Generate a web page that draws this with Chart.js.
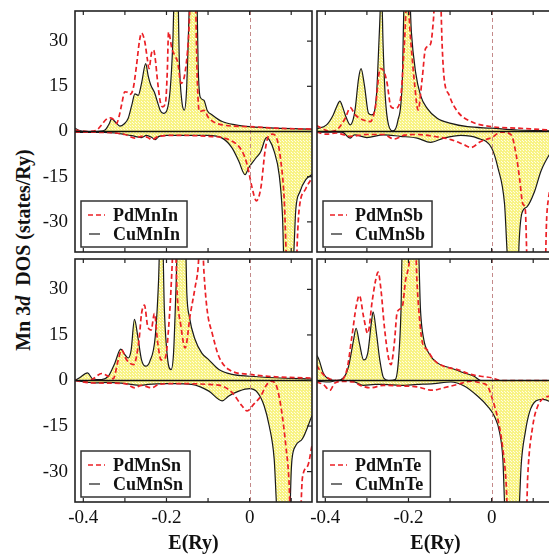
<!DOCTYPE html>
<html>
<head>
<meta charset="utf-8">
<script src="https://cdn.jsdelivr.net/npm/chart.js@4.4.1/dist/chart.umd.min.js"></script>
<style>
html, body { margin: 0; padding: 0; background: #fff; }
body { width: 549px; height: 558px; overflow: hidden; position: relative; }
canvas { position: absolute; }
#ytitle {
  position: absolute; left: 23px; top: 250px;
  transform: translate(-50%, -50%) rotate(-90deg);
  font: bold 20px 'Liberation Serif', serif; white-space: nowrap; color: #111;
}
</style>
</head>
<body>
<div id="ytitle">Mn 3<i>d</i>&nbsp; DOS (states/Ry)</div>
<canvas id="p0" width="284" height="245" style="left:30px;top:9px"></canvas>
<canvas id="p1" width="256" height="245" style="left:300px;top:9px"></canvas>
<canvas id="p2" width="284" height="301" style="left:30px;top:257px"></canvas>
<canvas id="p3" width="256" height="301" style="left:300px;top:257px"></canvas>
<script>
// compounds, one per panel (TL, TR, BL, BR)
const pdNames = ['PdMnIn', 'PdMnSb', 'PdMnSn', 'PdMnTe'];
const cuNames = ['CuMnIn', 'CuMnSb', 'CuMnSn', 'CuMnTe'];

// axis ticks
const xLabelTicks = [-0.4, -0.2, 0];
const xMinorTicks = [-0.4, -0.3, -0.2, -0.1, 0, 0.1];
const yTicks = [-30, -15, 0, 15, 30];

// [E (Ry), DOS (states/Ry)] ; spin up positive, spin down negative
const cuMnInUp = [[-0.42,1.2],[-0.41,0.3],[-0.39,0],[-0.37,0],[-0.348,0.5],[-0.338,2.5],[-0.332,4.2],[-0.322,3],[-0.312,1.8],[-0.302,2.5],[-0.292,4.4],[-0.283,9],[-0.276,12.5],[-0.268,12],[-0.26,16],[-0.25,22.5],[-0.244,18.5],[-0.238,15.5],[-0.229,13],[-0.221,9.5],[-0.215,7],[-0.207,6],[-0.199,7],[-0.191,14],[-0.185,28.6],[-0.179,55],[-0.173,50],[-0.169,23],[-0.163,10],[-0.157,7.1],[-0.152,13],[-0.147,33],[-0.142,55],[-0.131,60],[-0.126,40],[-0.124,23],[-0.119,11.5],[-0.11,10.4],[-0.102,7],[-0.09,5.5],[-0.066,3.3],[-0.034,2.2],[0,1.6],[0.063,1.1],[0.15,0.8]];
const pdMnInUp = [[-0.42,0.5],[-0.39,0],[-0.37,0.3],[-0.356,2.2],[-0.345,4],[-0.335,4.5],[-0.326,3.8],[-0.32,2.7],[-0.314,5],[-0.308,8.8],[-0.3,13.2],[-0.294,13],[-0.288,12.3],[-0.28,14.3],[-0.272,22],[-0.265,30],[-0.26,32.7],[-0.252,29.7],[-0.246,24],[-0.242,20.9],[-0.236,26],[-0.231,27],[-0.226,23],[-0.223,18.7],[-0.215,9.9],[-0.209,8.2],[-0.202,9.9],[-0.198,20],[-0.195,33],[-0.187,27.5],[-0.179,25],[-0.173,23],[-0.165,16],[-0.156,19],[-0.147,31],[-0.142,45],[-0.131,50],[-0.128,30],[-0.126,17.6],[-0.121,6.6],[-0.11,7],[-0.098,4.4],[-0.066,2.2],[0,1.6],[0.063,1.1],[0.15,0.8]];
const cuMnInDn = [[-0.42,-0.3],[-0.35,-0.3],[-0.324,-0.5],[-0.3,-1],[-0.276,-1.6],[-0.26,-2],[-0.248,-1.3],[-0.235,-2],[-0.227,-2.7],[-0.218,-1.6],[-0.2,-1.3],[-0.1,-1.3],[-0.066,-2.2],[-0.042,-5.5],[-0.026,-9.9],[-0.011,-14.3],[-0.002,-12],[0.015,-8.8],[0.027,-6.6],[0.036,-3],[0.04,-2],[0.047,-2.7],[0.059,-6.6],[0.071,-14.3],[0.079,-28],[0.083,-45],[0.103,-50],[0.107,-38],[0.111,-26],[0.121,-20],[0.135,-16],[0.15,-14.3]];
const pdMnInDn = [[-0.42,-0.2],[-0.35,-0.3],[-0.3,-1],[-0.276,-2.2],[-0.26,-1.6],[-0.245,-2],[-0.235,-2.7],[-0.219,-1.6],[-0.18,-1.3],[-0.1,-1.6],[-0.05,-2.7],[-0.018,-6.6],[-0.006,-11],[0.006,-18.7],[0.016,-23],[0.027,-18.7],[0.037,-6.6],[0.045,-1.6],[0.055,-0.9],[0.065,-2.2],[0.073,-7.7],[0.083,-22],[0.09,-45],[0.111,-50],[0.115,-35],[0.119,-26],[0.135,-19],[0.15,-15.4]];

const cuMnSbUp = [[-0.421,0.9],[-0.397,2.2],[-0.381,5.5],[-0.372,8.5],[-0.365,10.1],[-0.358,8],[-0.352,5.5],[-0.34,2.2],[-0.333,4],[-0.328,7.7],[-0.32,17.6],[-0.314,20.9],[-0.306,15.4],[-0.296,6],[-0.288,5.5],[-0.277,12],[-0.27,33],[-0.265,48],[-0.261,28.6],[-0.256,12],[-0.248,2.2],[-0.237,0.2],[-0.226,3.3],[-0.215,16.5],[-0.21,45],[-0.199,50],[-0.193,33],[-0.183,19.8],[-0.171,12],[-0.155,7.7],[-0.131,4.4],[-0.098,2.7],[-0.058,1.6],[0,1.1],[0.063,0.5],[0.15,0.2]];
const pdMnSbUp = [[-0.421,2],[-0.4,0.5],[-0.39,0],[-0.373,0.5],[-0.352,4.4],[-0.34,7.9],[-0.328,5.5],[-0.308,3.8],[-0.292,3.3],[-0.28,7.7],[-0.268,20.9],[-0.26,20.3],[-0.252,16.5],[-0.242,8.2],[-0.231,7.7],[-0.219,11],[-0.21,28.6],[-0.203,45],[-0.195,30.8],[-0.185,15.4],[-0.177,7.1],[-0.167,17.6],[-0.159,27.5],[-0.147,29],[-0.14,37],[-0.135,48],[-0.124,48],[-0.119,28.6],[-0.115,18.7],[-0.102,12],[-0.082,6.6],[-0.05,3.3],[0,1.6],[0.063,1.1],[0.15,0.4]];
const cuMnSbDn = [[-0.421,-0.2],[-0.36,-0.2],[-0.34,-2.2],[-0.33,-1.1],[-0.3,-2],[-0.26,-1.1],[-0.22,-1.6],[-0.179,-2.2],[-0.147,-3.6],[-0.115,-2.2],[-0.074,-1.3],[-0.034,-2.2],[0,-5.5],[0.015,-12],[0.031,-24],[0.04,-45],[0.063,-50],[0.066,-37],[0.073,-27],[0.085,-25],[0.103,-20],[0.119,-13],[0.15,-5]];
const pdMnSbDn = [[-0.421,-0.2],[-0.397,-0.9],[-0.373,-0.5],[-0.34,-1.6],[-0.3,-1],[-0.26,-1],[-0.235,-2.5],[-0.21,-1.2],[-0.179,-1],[-0.139,-1.6],[-0.098,-2.7],[-0.066,-4.4],[-0.05,-5.3],[-0.026,-3.3],[0,-2],[0.023,-0.2],[0.047,-1.1],[0.059,-7.7],[0.067,-15.4],[0.075,-24],[0.081,-26],[0.086,-45],[0.128,-50],[0.132,-30],[0.137,-22],[0.15,-15]];

const cuMnSnUp = [[-0.42,0],[-0.409,0.9],[-0.39,2.5],[-0.377,0.5],[-0.356,0.3],[-0.34,1.4],[-0.324,5.8],[-0.31,10.3],[-0.3,8.5],[-0.292,7.4],[-0.285,10],[-0.277,20.1],[-0.269,14.5],[-0.26,6.8],[-0.25,4.7],[-0.24,6.3],[-0.227,14.5],[-0.219,33],[-0.215,50],[-0.21,50],[-0.205,23],[-0.197,6.8],[-0.189,3.6],[-0.183,9],[-0.177,30.8],[-0.172,50],[-0.155,50],[-0.151,28.6],[-0.145,21],[-0.131,13.4],[-0.115,9],[-0.098,6.8],[-0.074,3.6],[-0.042,2],[0,1.4],[0.063,0.9],[0.15,0.5]];
const pdMnSnUp = [[-0.42,0],[-0.396,-0.2],[-0.377,0.5],[-0.356,2.3],[-0.34,1.4],[-0.328,0.6],[-0.316,6.8],[-0.308,10.1],[-0.296,6.8],[-0.279,5.2],[-0.266,13.4],[-0.26,22],[-0.253,24.8],[-0.245,17.7],[-0.237,16.6],[-0.229,22],[-0.221,12.3],[-0.213,6.8],[-0.203,7.4],[-0.192,23],[-0.187,36],[-0.182,50],[-0.178,45],[-0.175,30.8],[-0.165,17.7],[-0.155,10.7],[-0.143,21.5],[-0.131,30.8],[-0.124,37],[-0.119,48],[-0.113,45],[-0.11,36],[-0.102,23],[-0.09,15.5],[-0.074,7.9],[-0.05,3.6],[0,2],[0.063,1.2],[0.15,0.8]];
const cuMnSnDn = [[-0.42,0],[-0.373,-0.8],[-0.34,-0.6],[-0.3,-1],[-0.26,-1.6],[-0.245,-1.3],[-0.2,-1],[-0.179,-1],[-0.139,-1.3],[-0.098,-3.5],[-0.066,-6.7],[-0.05,-5.1],[-0.026,-3.5],[0,-2.7],[0.019,-4],[0.035,-8.4],[0.047,-14.9],[0.059,-25.8],[0.067,-45],[0.095,-50],[0.1,-30],[0.102,-25.8],[0.111,-21.4],[0.127,-19.2],[0.15,-11.6]];
const pdMnSnDn = [[-0.42,0],[-0.38,-0.8],[-0.3,-1],[-0.276,-2.4],[-0.26,-1.6],[-0.235,-2.4],[-0.219,-1.3],[-0.179,-1],[-0.098,-1.3],[-0.066,-1.8],[-0.042,-4],[-0.018,-8.4],[-0.006,-10],[0.01,-7.8],[0.027,-5.1],[0.039,-1.8],[0.051,-0.2],[0.063,-1.3],[0.075,-8.4],[0.087,-21.4],[0.095,-34],[0.099,-50],[0.12,-50],[0.127,-32],[0.14,-28],[0.15,-21.4]];

const cuMnTeUp = [[-0.421,8.5],[-0.415,6.8],[-0.405,2.5],[-0.389,0.3],[-0.373,0],[-0.356,0.9],[-0.344,4.7],[-0.332,13.4],[-0.326,17.2],[-0.318,12.3],[-0.308,6.8],[-0.298,9],[-0.289,19.3],[-0.285,22.6],[-0.277,15.5],[-0.269,6.8],[-0.26,0.9],[-0.248,0],[-0.232,0.3],[-0.224,6.8],[-0.218,23],[-0.214,50],[-0.178,50],[-0.171,23],[-0.163,13.4],[-0.151,9],[-0.131,5.8],[-0.098,4.1],[-0.066,2.5],[-0.042,1.4],[-0.026,0],[0.15,0]];
const pdMnTeUp = [[-0.421,4.9],[-0.405,2],[-0.389,0.5],[-0.365,0],[-0.348,3.6],[-0.336,14.5],[-0.326,24.2],[-0.318,28],[-0.308,21],[-0.298,15.5],[-0.287,26.4],[-0.279,33],[-0.273,35.7],[-0.266,29.7],[-0.258,17.7],[-0.248,7.4],[-0.242,5.2],[-0.234,12.3],[-0.227,22.6],[-0.215,24.2],[-0.207,33],[-0.199,38],[-0.19,50],[-0.184,50],[-0.18,34],[-0.175,23],[-0.167,12.8],[-0.155,10.1],[-0.139,6.8],[-0.115,4.7],[-0.082,3.6],[-0.05,2],[-0.026,1.4],[0,0.9],[0.023,0],[0.15,0]];
const cuMnTeDn = [[-0.421,-0.2],[-0.389,-0.5],[-0.373,0],[-0.34,0],[-0.324,-0.8],[-0.308,-1.6],[-0.28,-1.3],[-0.26,-1.3],[-0.22,-1.6],[-0.179,-1.3],[-0.139,-1],[-0.098,-0.5],[-0.066,-1.8],[-0.034,-5.1],[-0.01,-8.4],[0.006,-11.6],[0.019,-17],[0.027,-25.8],[0.033,-45],[0.063,-50],[0.067,-40],[0.071,-28],[0.081,-17],[0.091,-10.5],[0.107,-6.7],[0.123,-6.2],[0.15,-7.5]];
const pdMnTeDn = [[-0.421,-0.5],[-0.405,-1.3],[-0.389,-3.2],[-0.377,-0.8],[-0.356,-0.3],[-0.332,-0.5],[-0.316,-1.6],[-0.292,-2.4],[-0.26,-1.6],[-0.219,-1.8],[-0.179,-2.1],[-0.143,-3.2],[-0.115,-2.4],[-0.082,-1.3],[-0.05,-0.2],[-0.026,-0.8],[-0.01,-1.8],[0.002,-6.2],[0.015,-12.7],[0.027,-22.5],[0.035,-34],[0.04,-50],[0.082,-50],[0.087,-31],[0.099,-14.9],[0.111,-8.4],[0.127,-5.7],[0.15,-5]];

const cuUp = [cuMnInUp, cuMnSbUp, cuMnSnUp, cuMnTeUp];
const cuDn = [cuMnInDn, cuMnSbDn, cuMnSnDn, cuMnTeDn];
const pdUp = [pdMnInUp, pdMnSbUp, pdMnSnUp, pdMnTeUp];
const pdDn = [pdMnInDn, pdMnSbDn, pdMnSnDn, pdMnTeDn];

const FONT = "'Liberation Serif', 'Times New Roman', serif";
const RED = 'rgb(235,32,38)';
const INK = '#1a1a1a';

function toXY(arr) { return arr.map(p => ({ x: p[0], y: p[1] })); }

// dotted yellow fill like the original
function dotPattern() {
  const c = document.createElement('canvas');
  c.width = 3; c.height = 3;
  const g = c.getContext('2d');
  g.fillStyle = '#f8f384'; g.fillRect(0, 0, 3, 3);
  g.fillStyle = '#fffce4'; g.fillRect(1, 0, 1, 1); g.fillRect(0, 2, 1, 1);
  return g.createPattern(c, 'repeat');
}

function seg(ctx, x1, y1, x2, y2) {
  ctx.beginPath(); ctx.moveTo(x1, y1); ctx.lineTo(x2, y2); ctx.stroke();
}

// frame, inner ticks, E_F line, zero line and boxed legend
const panelDecor = {
  id: 'panelDecor',
  afterDatasetsDraw(chart) {
    const { ctx, chartArea: a, scales: { x, y } } = chart;
    ctx.save();
    ctx.strokeStyle = 'rgba(190,125,125,0.9)';
    ctx.lineWidth = 1;
    ctx.setLineDash([4, 3]);
    const xf = Math.round(x.getPixelForValue(0)) + 0.5;
    seg(ctx, xf, a.top, xf, a.bottom);
    ctx.setLineDash([]);

    const y0 = y.getPixelForValue(0);
    ctx.strokeStyle = '#111';
    ctx.lineWidth = 1.5;
    seg(ctx, a.left, y0, a.right, y0);

    ctx.strokeStyle = '#222';
    ctx.lineWidth = 1.6;
    ctx.strokeRect(a.left, a.top, a.width, a.height);
    ctx.lineWidth = 1.2;
    xMinorTicks.forEach(v => {
      const px = x.getPixelForValue(v);
      seg(ctx, px, a.top, px, a.top + 4);
      seg(ctx, px, a.bottom, px, a.bottom - 4);
    });
    yTicks.forEach(v => {
      const py = y.getPixelForValue(v);
      seg(ctx, a.right, py, a.right - 5, py);
    });

    // legend
    const names = [chart.data.datasets[0].label, chart.data.datasets[2].label];
    ctx.font = 'bold 18px ' + FONT;
    const w = 32 + Math.max(...names.map(n => ctx.measureText(n).width)) + 7;
    const h = 46;
    const bx = a.left + 6, by = a.bottom - 5 - h;
    ctx.fillStyle = '#fff';
    ctx.fillRect(bx, by, w, h);
    ctx.strokeStyle = '#333';
    ctx.lineWidth = 1.5;
    ctx.strokeRect(bx, by, w, h);
    ctx.strokeStyle = RED;
    ctx.lineWidth = 1.6;
    ctx.setLineDash([5, 3]);
    seg(ctx, bx + 7, by + 14, bx + 24, by + 14);
    ctx.setLineDash([]);
    ctx.strokeStyle = INK;
    ctx.lineWidth = 1.2;
    seg(ctx, bx + 8, by + 33, bx + 19, by + 33);
    ctx.fillStyle = '#111';
    ctx.textBaseline = 'middle';
    ctx.textAlign = 'left';
    ctx.fillText(names[0], bx + 32, by + 15);
    ctx.fillText(names[1], bx + 32, by + 34);
    ctx.restore();
  }
};

const yellow = dotPattern();

function makePanel(i, showX, showY, pad) {
  new Chart(document.getElementById('p' + i), {
    type: 'line',
    data: {
      datasets: [
        { label: pdNames[i], data: toXY(pdUp[i]), borderColor: RED, borderWidth: 1.7, borderDash: [5, 3], fill: false },
        { label: pdNames[i] + ' dn', data: toXY(pdDn[i]), borderColor: RED, borderWidth: 1.7, borderDash: [5, 3], fill: false },
        { label: cuNames[i], data: toXY(cuUp[i]), borderColor: INK, borderWidth: 1.2, fill: 'origin', backgroundColor: yellow },
        { label: cuNames[i] + ' dn', data: toXY(cuDn[i]), borderColor: INK, borderWidth: 1.2, fill: 'origin', backgroundColor: yellow }
      ]
    },
    options: {
      responsive: false,
      animation: false,
      devicePixelRatio: 1,
      layout: { padding: pad },
      elements: { point: { radius: 0 }, line: { cubicInterpolationMode: 'monotone' } },
      plugins: {
        legend: { display: false },
        tooltip: { enabled: false },
        filler: { drawTime: 'beforeDatasetsDraw' }
      },
      scales: {
        x: {
          type: 'linear', min: -0.42, max: 0.15, display: showX,
          afterBuildTicks: s => { s.ticks = xLabelTicks.map(v => ({ value: v })); },
          afterFit: s => {
            s.height = showX ? 56 : 0;
            s.paddingLeft = 0; s.paddingRight = 0;
          },
          grid: { display: false, drawTicks: false },
          border: { display: false },
          ticks: {
            color: '#111', padding: 5, maxRotation: 0, autoSkip: false,
            font: { family: FONT, size: 19 },
            callback: v => (v === 0 ? '0' : v.toFixed(1))
          },
          title: {
            display: true, text: 'E(Ry)', color: '#111',
            font: { family: FONT, size: 20, weight: 'bold' },
            padding: { top: 0, bottom: 2 }
          }
        },
        y: {
          type: 'linear', min: -40, max: 40, display: showY,
          afterBuildTicks: s => { s.ticks = yTicks.map(v => ({ value: v })); },
          afterFit: s => {
            s.width = showY ? 45 : 0;
            s.paddingTop = 0; s.paddingBottom = 0;
          },
          grid: { display: false, drawTicks: false },
          border: { display: false },
          ticks: { color: '#111', padding: 7, font: { family: FONT, size: 19 } }
        }
      }
    },
    plugins: [panelDecor]
  });
}

makePanel(0, false, true, { left: 0, top: 2, right: 2, bottom: 2 });
makePanel(1, false, false, { left: 17, top: 2, right: 2, bottom: 2 });
makePanel(2, true, true, { left: 0, top: 2, right: 2, bottom: 0 });
makePanel(3, true, false, { left: 17, top: 2, right: 2, bottom: 0 });
</script>
</body>
</html>
